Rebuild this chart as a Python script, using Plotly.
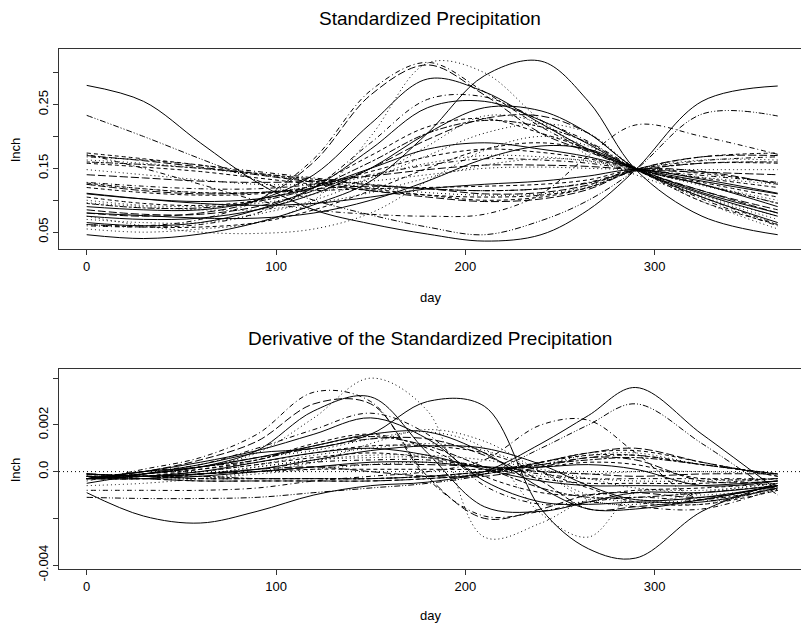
import plotly.graph_objects as go

# ---------------- data ----------------
days = [0, 30, 60, 90, 120, 150, 180, 210, 240, 265, 290, 325, 365]
x_ticks = [0, 100, 200, 300]
top_tickvals = [0.05, 0.10, 0.15, 0.20, 0.25, 0.30]
top_ticktext = ["0.05", "", "0.15", "", "0.25", ""]
bot_tickvals = [-0.004, -0.002, 0.0, 0.002, 0.004]
bot_ticktext = ["-0.004", "", "0.0", "0.002", ""]

# standardized precipitation (inch)
p01 = [0.280, 0.255, 0.190, 0.128, 0.085, 0.063, 0.047, 0.036, 0.046, 0.085, 0.148, 0.255, 0.279]
p02 = [0.233, 0.200, 0.165, 0.131, 0.100, 0.077, 0.058, 0.046, 0.068, 0.100, 0.148, 0.235, 0.232]
p03 = [0.046, 0.040, 0.047, 0.065, 0.093, 0.130, 0.205, 0.295, 0.318, 0.255, 0.148, 0.075, 0.046]
p04 = [0.172, 0.150, 0.125, 0.100, 0.085, 0.078, 0.075, 0.078, 0.110, 0.170, 0.218, 0.200, 0.172]
p05 = [0.062, 0.060, 0.070, 0.100, 0.165, 0.272, 0.316, 0.270, 0.215, 0.178, 0.148, 0.105, 0.062]
p06 = [0.055, 0.050, 0.055, 0.065, 0.100, 0.200, 0.315, 0.300, 0.225, 0.178, 0.148, 0.098, 0.055]
p07 = [0.080, 0.075, 0.080, 0.100, 0.160, 0.265, 0.312, 0.265, 0.205, 0.176, 0.148, 0.115, 0.080]
p08 = [0.090, 0.085, 0.085, 0.100, 0.140, 0.220, 0.290, 0.270, 0.220, 0.180, 0.150, 0.125, 0.090]
p09 = [0.060, 0.058, 0.062, 0.080, 0.120, 0.190, 0.258, 0.262, 0.225, 0.192, 0.150, 0.102, 0.060]
p10 = [0.065, 0.060, 0.065, 0.085, 0.120, 0.180, 0.245, 0.255, 0.225, 0.188, 0.148, 0.105, 0.065]
p11 = [0.075, 0.070, 0.072, 0.085, 0.110, 0.150, 0.205, 0.245, 0.240, 0.205, 0.150, 0.110, 0.075]
p12 = [0.070, 0.065, 0.065, 0.078, 0.100, 0.135, 0.185, 0.232, 0.220, 0.170, 0.140, 0.105, 0.070]
p13 = [0.085, 0.078, 0.078, 0.090, 0.115, 0.150, 0.195, 0.228, 0.232, 0.205, 0.150, 0.115, 0.085]
p14 = [0.095, 0.088, 0.088, 0.098, 0.120, 0.160, 0.205, 0.225, 0.215, 0.190, 0.150, 0.125, 0.095]
p15 = [0.105, 0.095, 0.092, 0.100, 0.125, 0.170, 0.215, 0.228, 0.205, 0.180, 0.150, 0.128, 0.105]
p16 = [0.100, 0.092, 0.090, 0.095, 0.110, 0.135, 0.170, 0.205, 0.220, 0.205, 0.152, 0.125, 0.100]
p17 = [0.110, 0.102, 0.098, 0.102, 0.120, 0.150, 0.180, 0.190, 0.180, 0.168, 0.150, 0.130, 0.110]
p18 = [0.120, 0.112, 0.108, 0.110, 0.122, 0.145, 0.168, 0.180, 0.175, 0.165, 0.150, 0.135, 0.120]
p19 = [0.125, 0.118, 0.112, 0.112, 0.122, 0.138, 0.158, 0.170, 0.168, 0.161, 0.149, 0.136, 0.125]
p20 = [0.128, 0.122, 0.118, 0.118, 0.125, 0.140, 0.155, 0.165, 0.163, 0.158, 0.148, 0.139, 0.128]
p21 = [0.140, 0.135, 0.130, 0.128, 0.130, 0.138, 0.148, 0.155, 0.155, 0.153, 0.148, 0.144, 0.140]
p22 = [0.148, 0.140, 0.132, 0.125, 0.125, 0.130, 0.140, 0.150, 0.152, 0.150, 0.148, 0.148, 0.148]
p23 = [0.174, 0.165, 0.155, 0.142, 0.130, 0.118, 0.108, 0.100, 0.105, 0.120, 0.148, 0.168, 0.174]
p24 = [0.170, 0.162, 0.152, 0.140, 0.128, 0.115, 0.105, 0.098, 0.102, 0.117, 0.148, 0.168, 0.170]
p25 = [0.168, 0.163, 0.155, 0.145, 0.135, 0.125, 0.118, 0.115, 0.118, 0.128, 0.148, 0.162, 0.168]
p26 = [0.160, 0.156, 0.150, 0.142, 0.133, 0.124, 0.118, 0.115, 0.118, 0.127, 0.146, 0.158, 0.160]
p27 = [0.158, 0.152, 0.145, 0.135, 0.125, 0.115, 0.108, 0.105, 0.108, 0.120, 0.146, 0.158, 0.158]
p28 = [0.163, 0.158, 0.150, 0.140, 0.130, 0.120, 0.112, 0.108, 0.110, 0.122, 0.148, 0.163, 0.163]
p29 = [0.127, 0.118, 0.112, 0.112, 0.115, 0.118, 0.120, 0.122, 0.125, 0.132, 0.148, 0.142, 0.127]
p30 = [0.125, 0.115, 0.110, 0.112, 0.118, 0.122, 0.118, 0.110, 0.112, 0.124, 0.148, 0.145, 0.125]
p31 = [0.111, 0.102, 0.095, 0.092, 0.095, 0.105, 0.118, 0.125, 0.130, 0.138, 0.148, 0.133, 0.111]
p32 = [0.096, 0.090, 0.085, 0.085, 0.095, 0.112, 0.135, 0.155, 0.165, 0.162, 0.148, 0.123, 0.096]
p33 = [0.080, 0.076, 0.072, 0.072, 0.080, 0.100, 0.130, 0.165, 0.185, 0.180, 0.150, 0.112, 0.080]
p34 = [0.075, 0.060, 0.050, 0.048, 0.055, 0.080, 0.130, 0.178, 0.200, 0.185, 0.148, 0.108, 0.075]
p35 = [0.062, 0.058, 0.058, 0.065, 0.085, 0.115, 0.150, 0.180, 0.190, 0.178, 0.148, 0.098, 0.062]

# derivative of the standardized precipitation (units of 0.001 inch / day)
d01 = [-0.9, -1.9, -2.2, -1.7, -1.0, -0.6, -0.45, 0.0, 1.2, 2.4, 3.6, 1.6, -0.8]
d02 = [-1.1, -1.15, -1.15, -1.1, -0.9, -0.7, -0.5, -0.1, 1.0, 2.0, 2.9, 1.2, -1.0]
d03 = [-0.5, -0.1, 0.3, 0.8, 1.0, 1.6, 3.0, 2.8, -1.6, -3.3, -3.7, -1.7, -0.5]
d04 = [-0.8, -0.8, -0.8, -0.7, -0.4, -0.2, 0.0, 0.5, 2.0, 2.2, 0.8, -1.2, -0.6]
d05 = [-0.4, 0.1, 0.6, 1.6, 3.4, 3.0, -0.3, -1.9, -1.7, -1.3, -1.1, -1.2, -0.7]
d06 = [-0.3, -0.1, 0.2, 0.8, 2.3, 4.0, 2.6, -2.8, -2.2, -1.2, -1.2, -1.4, -0.6]
d07 = [-0.3, 0.0, 0.5, 1.3, 2.9, 2.9, -0.2, -2.0, -1.6, -1.0, -0.9, -1.1, -0.6]
d08 = [-0.3, -0.1, 0.2, 0.9, 2.6, 3.2, 0.8, -1.5, -1.7, -1.3, -0.9, -0.9, -0.6]
d09 = [-0.3, 0.0, 0.3, 1.0, 1.8, 2.5, 1.6, -0.6, -1.4, -1.3, -1.5, -1.6, -0.7]
d10 = [-0.3, 0.0, 0.4, 0.9, 1.6, 2.3, 1.4, -0.4, -1.3, -1.4, -1.3, -1.3, -0.7]
d11 = [-0.3, 0.0, 0.2, 0.6, 1.1, 1.6, 1.7, 0.8, -0.7, -1.6, -1.6, -1.2, -0.6]
d12 = [-0.3, -0.1, 0.2, 0.6, 0.9, 1.4, 1.7, 1.0, -1.8, -2.8, -0.9, -1.0, -0.7]
d13 = [-0.3, -0.1, 0.2, 0.6, 1.0, 1.4, 1.4, 0.7, -0.4, -1.6, -1.5, -1.2, -0.6]
d14 = [-0.3, -0.1, 0.2, 0.5, 1.1, 1.5, 1.1, 0.2, -0.7, -1.1, -1.1, -0.9, -0.6]
d15 = [-0.3, -0.2, 0.1, 0.5, 1.2, 1.6, 1.0, -0.2, -0.9, -1.0, -0.8, -0.7, -0.5]
d16 = [-0.3, -0.2, 0.0, 0.3, 0.7, 1.0, 1.2, 0.9, 0.0, -1.2, -1.4, -0.9, -0.5]
d17 = [-0.3, -0.2, 0.0, 0.4, 0.8, 1.0, 0.7, 0.1, -0.4, -0.6, -0.6, -0.6, -0.4]
d18 = [-0.3, -0.2, 0.0, 0.3, 0.6, 0.8, 0.6, 0.2, -0.3, -0.5, -0.5, -0.5, -0.3]
d19 = [-0.2, -0.2, -0.1, 0.2, 0.5, 0.6, 0.6, 0.2, -0.2, -0.3, -0.4, -0.4, -0.3]
d20 = [-0.2, -0.2, -0.1, 0.1, 0.4, 0.5, 0.5, 0.2, -0.1, -0.3, -0.3, -0.3, -0.3]
d21 = [-0.1, -0.2, -0.1, 0.0, 0.2, 0.3, 0.3, 0.2, 0.0, -0.1, -0.2, -0.1, -0.1]
d22 = [-0.2, -0.3, -0.3, -0.1, 0.1, 0.3, 0.4, 0.2, 0.0, -0.1, 0.0, 0.0, -0.1]
d23 = [-0.2, -0.3, -0.4, -0.4, -0.4, -0.4, -0.3, -0.1, 0.4, 0.8, 0.9, 0.4, -0.2]
d24 = [-0.2, -0.3, -0.4, -0.4, -0.4, -0.4, -0.3, -0.1, 0.4, 0.8, 1.0, 0.4, -0.2]
d25 = [-0.1, -0.2, -0.3, -0.3, -0.3, -0.3, -0.2, 0.0, 0.3, 0.6, 0.7, 0.3, -0.1]
d26 = [-0.1, -0.2, -0.2, -0.3, -0.3, -0.3, -0.2, 0.0, 0.3, 0.5, 0.6, 0.3, -0.1]
d27 = [-0.1, -0.2, -0.3, -0.3, -0.3, -0.3, -0.2, 0.0, 0.4, 0.7, 0.7, 0.3, -0.1]
d28 = [-0.1, -0.2, -0.3, -0.3, -0.3, -0.3, -0.2, -0.1, 0.3, 0.7, 0.8, 0.3, -0.1]
d29 = [-0.3, -0.3, -0.1, 0.0, 0.1, 0.1, 0.1, 0.1, 0.2, 0.4, 0.3, -0.3, -0.3]
d30 = [-0.3, -0.3, -0.1, 0.1, 0.2, 0.0, -0.2, -0.2, 0.2, 0.6, 0.5, -0.4, -0.4]
d31 = [-0.3, -0.3, -0.2, 0.0, 0.2, 0.4, 0.4, 0.2, 0.2, 0.3, 0.1, -0.6, -0.4]
d32 = [-0.2, -0.2, -0.1, 0.2, 0.5, 0.7, 0.7, 0.5, 0.1, -0.3, -0.7, -0.8, -0.5]
d33 = [-0.1, -0.2, -0.1, 0.1, 0.5, 0.9, 1.1, 1.0, 0.3, -0.6, -1.2, -1.1, -0.6]
d34 = [-0.6, -0.5, -0.3, 0.0, 0.4, 1.2, 1.8, 1.3, 0.0, -1.0, -1.3, -1.2, -0.8]
d35 = [-0.2, -0.1, 0.1, 0.4, 0.8, 1.1, 1.1, 0.8, 0.0, -0.7, -1.3, -1.4, -0.8]

top_series = [p01, p02, p03, p04, p05, p06, p07, p08, p09, p10, p11, p12, p13, p14, p15, p16, p17, p18,
              p19, p20, p21, p22, p23, p24, p25, p26, p27, p28, p29, p30, p31, p32, p33, p34, p35]
bot_series = [d01, d02, d03, d04, d05, d06, d07, d08, d09, d10, d11, d12, d13, d14, d15, d16, d17, d18,
              d19, d20, d21, d22, d23, d24, d25, d26, d27, d28, d29, d30, d31, d32, d33, d34, d35]

# ---------------- styles ----------------
DASH = {
    "solid": "solid",
    "dashed": "4px,3px",
    "dotted": "1px,3px",
    "dotdash": "1px,3px,5px,3px",
    "longdash": "8px,3px",
    "twodash": "3px,2px,7px,2px",
    "dashdotdot": "6px,2px,1px,2px,1px,2px",
}
styles = ["solid", "dashdotdot", "solid", "dotdash", "dotdash", "dotted", "longdash", "solid", "dotdash",
          "solid", "solid", "dotted", "longdash", "twodash", "dashed", "dotted", "solid", "dashed",
          "dotted", "dotdash", "longdash", "dotted", "dashed", "longdash", "dotdash", "twodash", "dashed",
          "dotted", "dashed", "longdash", "solid", "dotted", "solid", "dotted", "dashed"]

FONT = "Liberation Sans, Arial, sans-serif"
AX = "#333333"

fig = go.Figure()
for p, st in zip(top_series, styles):
    fig.add_trace(go.Scatter(x=days, y=p, mode="lines", xaxis="x", yaxis="y", showlegend=False,
                             hoverinfo="skip",
                             line=dict(color="black", width=1, dash=DASH[st], shape="spline", smoothing=1.0)))
for d, st in zip(bot_series, styles):
    fig.add_trace(go.Scatter(x=days, y=[v / 1000 for v in d], mode="lines", xaxis="x2", yaxis="y2",
                             showlegend=False, hoverinfo="skip",
                             line=dict(color="black", width=1, dash=DASH[st], shape="spline", smoothing=1.0)))

xcommon = dict(range=[-14.63, 377.3], tickvals=x_ticks, ticktext=[str(t) for t in x_ticks],
               ticks="outside", ticklen=5, tickcolor=AX, showline=True, linecolor=AX, linewidth=1,
               mirror=True, showgrid=False, zeroline=False, automargin=False,
               tickfont=dict(family=FONT, size=13, color="black"))
ycommon = dict(tickangle=-90, ticks="outside", ticklen=5, tickcolor=AX, showline=True, linecolor=AX,
               linewidth=1, showgrid=False, zeroline=False, automargin=False, mirror=False,
               tickfont=dict(family=FONT, size=13, color="black"))

fig.update_layout(
    width=801, height=625,
    margin=dict(l=59, r=0, t=49, b=56, autoexpand=False),
    paper_bgcolor="white", plot_bgcolor="white",
    xaxis=dict(domain=[0, 1], anchor="y", **xcommon),
    yaxis=dict(domain=[0.615, 1.0], anchor="x", range=[0.0233, 0.337],
               tickvals=top_tickvals, ticktext=top_ticktext, **ycommon),
    xaxis2=dict(domain=[0, 1], anchor="y2", **xcommon),
    yaxis2=dict(domain=[0.0, 0.385], anchor="x2", range=[-0.004167, 0.0044],
                tickvals=bot_tickvals, ticktext=bot_ticktext, **ycommon),
    shapes=[dict(type="line", xref="paper", x0=0, x1=1, yref="y2", y0=0, y1=0,
                 line=dict(color="black", width=1, dash="1px,3px"))],
    annotations=[
        dict(text="Standardized Precipitation", xref="paper", yref="paper", x=0.5, y=1.0596,
             showarrow=False, xanchor="center", yanchor="middle", font=dict(family=FONT, size=19, color="black")),
        dict(text="Derivative of the Standardized Precipitation", xref="paper", yref="paper", x=0.5, y=0.444,
             showarrow=False, xanchor="center", yanchor="middle", font=dict(family=FONT, size=19, color="black")),
        dict(text="day", xref="paper", yref="paper", x=0.5, y=0.523, showarrow=False,
             xanchor="center", yanchor="middle", font=dict(family=FONT, size=13, color="black")),
        dict(text="day", xref="paper", yref="paper", x=0.5, y=-0.0885, showarrow=False,
             xanchor="center", yanchor="middle", font=dict(family=FONT, size=13, color="black")),
        dict(text="Inch", xref="paper", yref="paper", x=-0.0593, y=0.807, showarrow=False, textangle=-90,
             xanchor="center", yanchor="middle", font=dict(family=FONT, size=13, color="black")),
        dict(text="Inch", xref="paper", yref="paper", x=-0.0593, y=0.1917, showarrow=False, textangle=-90,
             xanchor="center", yanchor="middle", font=dict(family=FONT, size=13, color="black")),
    ],
)

fig.write_html("out.html", config={"displayModeBar": False},
               post_script="document.body.style.margin='0px';")
